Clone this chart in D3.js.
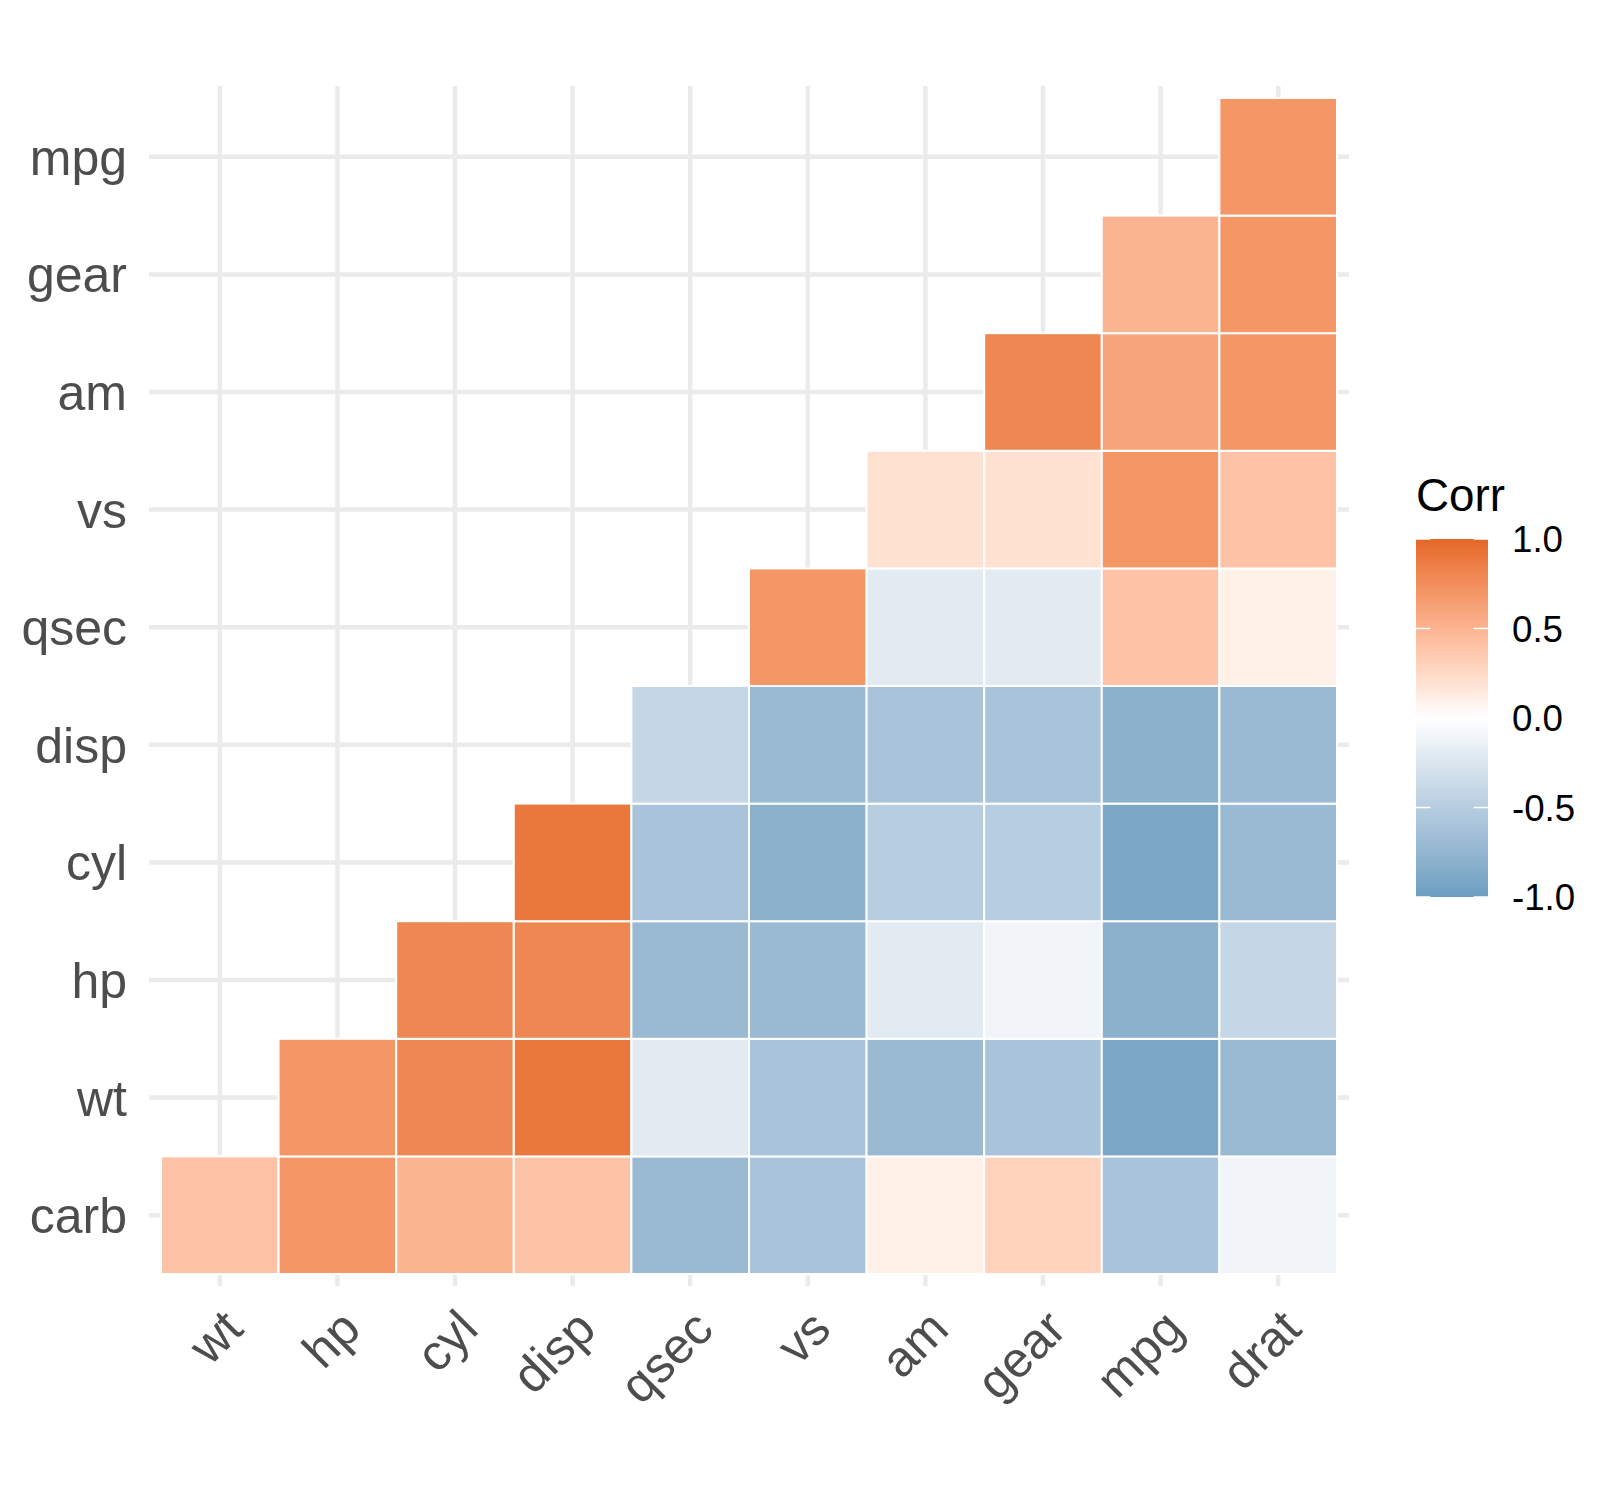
<!DOCTYPE html>
<html>
<head>
<meta charset="utf-8">
<script src="https://cdn.jsdelivr.net/npm/d3@7"></script>
<style>
  body { margin: 0; background: #fff; }
  text { font-family: "Liberation Sans", Arial, sans-serif; }
</style>
</head>
<body>
<div id="chart"></div>
<script>
// variables, in hclust order
var xVars = ['wt', 'hp', 'cyl', 'disp', 'qsec', 'vs', 'am', 'gear', 'mpg', 'drat'];
var yVars = ['carb', 'wt', 'hp', 'cyl', 'disp', 'qsec', 'vs', 'am', 'gear', 'mpg'];

// one row per y variable, values line up with xVars (null = hidden half)
// correlations shown rounded to one decimal
var corrCarb = [0.4, 0.7, 0.5, 0.4, -0.7, -0.6, 0.1, 0.3, -0.6, -0.1];
var corrWt   = [null, 0.7, 0.8, 0.9, -0.2, -0.6, -0.7, -0.6, -0.9, -0.7];
var corrHp   = [null, null, 0.8, 0.8, -0.7, -0.7, -0.2, -0.1, -0.8, -0.4];
var corrCyl  = [null, null, null, 0.9, -0.6, -0.8, -0.5, -0.5, -0.9, -0.7];
var corrDisp = [null, null, null, null, -0.4, -0.7, -0.6, -0.6, -0.8, -0.7];
var corrQsec = [null, null, null, null, null, 0.7, -0.2, -0.2, 0.4, 0.1];
var corrVs   = [null, null, null, null, null, null, 0.2, 0.2, 0.7, 0.4];
var corrAm   = [null, null, null, null, null, null, null, 0.8, 0.6, 0.7];
var corrGear = [null, null, null, null, null, null, null, null, 0.5, 0.7];
var corrMpg  = [null, null, null, null, null, null, null, null, null, 0.7];

var legendTicks = [1.0, 0.5, 0.0, -0.5, -1.0];
var legendTitle = 'Corr';

var rows = [corrCarb, corrWt, corrHp, corrCyl, corrDisp, corrQsec, corrVs, corrAm, corrGear, corrMpg];

var cells = [];
rows.forEach(function(r, i) {
    r.forEach(function(v, j) {
        if (v !== null) cells.push({x: xVars[j], y: yVars[i], value: v});
    });
});

var W = 1620, H = 1500;
var tileLeft = 161, tileTop = 98, cell = 117.6;
var expand = 12;

var svg = d3.select('#chart').append('svg')
    .attr('width', W)
    .attr('height', H);

svg.append('rect').attr('width', W).attr('height', H).attr('fill', '#fff');

var x = d3.scaleBand()
    .domain(xVars)
    .range([tileLeft, tileLeft + cell * xVars.length]);

var y = d3.scaleBand()
    .domain(yVars.slice().reverse())
    .range([tileTop, tileTop + cell * yVars.length]);

var color = d3.scaleLinear()
    .domain([-1, 0, 1])
    .range(['#6D9EC1', '#FFFFFF', '#E46726'])
    .interpolate(d3.interpolateLab);

var panelL = x.range()[0] - expand, panelR = x.range()[1] + expand;
var panelT = y.range()[0] - expand, panelB = y.range()[1] + expand;

// grid
svg.append('g').selectAll('line.vg')
    .data(xVars)
    .enter().append('line')
    .attr('x1', d => x(d) + x.bandwidth() / 2)
    .attr('x2', d => x(d) + x.bandwidth() / 2)
    .attr('y1', panelT)
    .attr('y2', panelB)
    .attr('stroke', '#EBEBEB')
    .attr('stroke-width', 4.5);

svg.append('g').selectAll('line.hg')
    .data(yVars)
    .enter().append('line')
    .attr('y1', d => y(d) + y.bandwidth() / 2)
    .attr('y2', d => y(d) + y.bandwidth() / 2)
    .attr('x1', panelL)
    .attr('x2', panelR)
    .attr('stroke', '#EBEBEB')
    .attr('stroke-width', 4.5);

// tiles
svg.append('g').selectAll('rect')
    .data(cells)
    .enter().append('rect')
    .attr('x', d => x(d.x))
    .attr('y', d => y(d.y))
    .attr('width', x.bandwidth())
    .attr('height', y.bandwidth())
    .attr('fill', d => color(d.value))
    .attr('stroke', '#fff')
    .attr('stroke-width', 2);

// y axis labels
svg.append('g').selectAll('text')
    .data(yVars)
    .enter().append('text')
    .attr('x', 127)
    .attr('y', d => y(d) + y.bandwidth() / 2)
    .attr('dy', '0.36em')
    .attr('text-anchor', 'end')
    .attr('fill', '#4D4D4D')
    .style('font-size', '50px')
    .text(d => d);

// x axis labels, rotated 45
svg.append('g').selectAll('text')
    .data(xVars)
    .enter().append('text')
    .attr('transform', d => 'translate(' + (x(d) + x.bandwidth() / 2) + ',' + (panelB + 20) + ') rotate(-45)')
    .attr('dy', '0.72em')
    .attr('text-anchor', 'end')
    .attr('fill', '#4D4D4D')
    .style('font-size', '50px')
    .text(d => d);

// legend
var barX = 1416, barW = 72, barTop = 539, barH = 358;
var ly = d3.scaleLinear().domain([1, -1]).range([barTop, barTop + barH]);

var grad = svg.append('defs').append('linearGradient')
    .attr('id', 'corrGrad')
    .attr('x1', 0).attr('y1', 0).attr('x2', 0).attr('y2', 1);
d3.range(0, 41).forEach(function(k) {
    var v = 1 - k / 20;
    grad.append('stop')
        .attr('offset', (k / 40 * 100) + '%')
        .attr('stop-color', color(v));
});

svg.append('rect')
    .attr('x', barX).attr('y', barTop)
    .attr('width', barW).attr('height', barH)
    .attr('fill', 'url(#corrGrad)');

var tickLen = barW / 5;
var lt = svg.append('g');
legendTicks.forEach(function(t) {
    lt.append('line')
        .attr('x1', barX).attr('x2', barX + tickLen)
        .attr('y1', ly(t)).attr('y2', ly(t))
        .attr('stroke', '#fff').attr('stroke-width', 1.5);
    lt.append('line')
        .attr('x1', barX + barW - tickLen).attr('x2', barX + barW)
        .attr('y1', ly(t)).attr('y2', ly(t))
        .attr('stroke', '#fff').attr('stroke-width', 1.5);
});

svg.append('g').selectAll('text')
    .data(legendTicks)
    .enter().append('text')
    .attr('x', barX + barW + 24)
    .attr('y', d => ly(d))
    .attr('dy', '0.36em')
    .attr('fill', '#000')
    .style('font-size', '36.7px')
    .text(d => d3.format('.1f')(d).replace('−', '-'));

svg.append('text')
    .attr('x', barX)
    .attr('y', 511)
    .attr('fill', '#000')
    .style('font-size', '45.8px')
    .text(legendTitle);
</script>
</body>
</html>
